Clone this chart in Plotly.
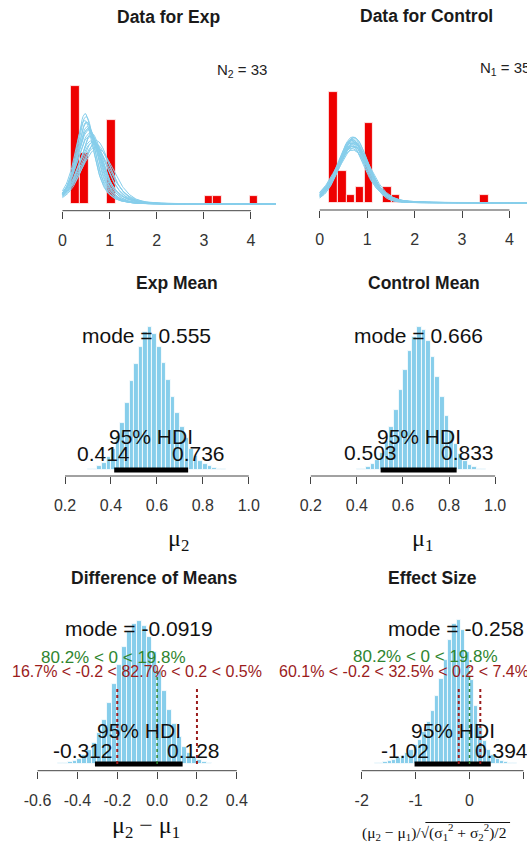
import math
import plotly.graph_objects as go

W, H = 527, 844

# ------------------------------------------------------------------ data
# observed data histograms (bin centres, counts)
data_bin_width = 0.18
exp_bin_centers = [0.275, 0.46, 1.035, 3.10, 3.29, 4.055]
exp_bin_counts = [14, 6, 10, 1, 1, 1]
N_exp = 33
ctrl_bin_centers = [0.29, 0.47, 0.65, 0.84, 1.03, 1.42, 1.60, 3.47]
ctrl_bin_counts = [14, 4, 1, 2, 10, 2, 1, 1]
N_ctrl = 35

# posterior-predictive t curves (mu, sigma, nu)
exp_mu = [0.50, 0.52, 0.48, 0.55, 0.58, 0.62, 0.66, 0.70, 0.74, 0.53,
          0.57, 0.60, 0.47, 0.64, 0.69, 0.51, 0.56, 0.72, 0.61, 0.54]
exp_sigma = [0.21, 0.23, 0.20, 0.25, 0.27, 0.26, 0.30, 0.32, 0.35, 0.24,
             0.28, 0.29, 0.22, 0.31, 0.33, 0.22, 0.26, 0.30, 0.27, 0.25]
exp_nu = [3, 4, 2.5, 5, 6, 3, 4, 8, 10, 3.5, 5, 2.8, 3, 6, 4, 2.5, 7, 5, 3, 4]
ctrl_mu = [0.68, 0.70, 0.72, 0.66, 0.71, 0.69, 0.73, 0.67, 0.70, 0.74,
           0.65, 0.72, 0.69, 0.71, 0.68, 0.70, 0.66, 0.73, 0.70, 0.67]
ctrl_sigma = [0.30, 0.31, 0.33, 0.30, 0.34, 0.30, 0.32, 0.36, 0.31, 0.35,
              0.31, 0.30, 0.37, 0.32, 0.31, 0.34, 0.33, 0.30, 0.35, 0.32]
ctrl_nu = [5, 8, 10, 4, 6, 20, 7, 12, 5, 9, 3, 15, 10, 6, 30, 8, 4, 11, 25, 6]
curve_x_span = (0.0, 4.55)

# posterior histograms: first bin centre, bin width, relative heights
mu2_start, mu2_width = 0.31, 0.02
mu2_heights = [0.005, 0.01, 0.025, 0.05, 0.09, 0.15, 0.24, 0.33, 0.47, 0.62,
               0.74, 0.86, 0.96, 1.00, 0.95, 0.86, 0.75, 0.63, 0.51, 0.40,
               0.30, 0.22, 0.15, 0.10, 0.065, 0.04, 0.025, 0.015, 0.008, 0.004]
mu1_start, mu1_width = 0.41, 0.02
mu1_heights = [0.005, 0.01, 0.02, 0.04, 0.07, 0.12, 0.20, 0.30, 0.42, 0.56,
               0.70, 0.83, 0.93, 1.00, 0.98, 0.90, 0.79, 0.65, 0.51, 0.38,
               0.27, 0.18, 0.11, 0.065, 0.035, 0.018, 0.008, 0.004]
diff_start, diff_width = -0.5375, 0.025
diff_heights = [0.002, 0.003, 0.005, 0.008, 0.012, 0.02, 0.035, 0.06, 0.095,
                0.145, 0.215, 0.31, 0.43, 0.56, 0.69, 0.82, 0.92, 0.98, 1.00,
                0.965, 0.89, 0.78, 0.65, 0.51, 0.38, 0.28, 0.19, 0.12, 0.075,
                0.045, 0.025, 0.013, 0.007, 0.003]
eff_start, eff_width = -1.72, 0.08
eff_heights = [0.005, 0.01, 0.015, 0.02, 0.03, 0.04, 0.055, 0.075, 0.10, 0.13,
               0.17, 0.22, 0.29, 0.37, 0.47, 0.59, 0.72, 0.86, 0.97, 1.00,
               0.93, 0.78, 0.58, 0.40, 0.26, 0.16, 0.10, 0.06, 0.035, 0.02,
               0.012, 0.007, 0.004]

mu2_mode, mu2_hdi = 0.555, (0.414, 0.736)
mu1_mode, mu1_hdi = 0.666, (0.503, 0.833)
diff_mode, diff_hdi = -0.0919, (-0.312, 0.128)
eff_mode, eff_hdi = -0.258, (-1.02, 0.394)
comp_val = 0
rope = (-0.2, 0.2)
diff_comp_pct = (80.2, 19.8)
eff_comp_pct = (80.2, 19.8)
diff_rope_pct = (16.7, 82.7, 0.5)
eff_rope_pct = (60.1, 32.5, 7.4)

ticks_data = [0, 1, 2, 3, 4]
ticks_mean = [0.2, 0.4, 0.6, 0.8, 1.0]
ticks_diff = [-0.6, -0.4, -0.2, 0.0, 0.2, 0.4]
ticks_eff = [-2, -1, 0, 1]
ticks_data_lbl = ["0", "1", "2", "3", "4"]
ticks_mean_lbl = ["0.2", "0.4", "0.6", "0.8", "1.0"]
ticks_diff_lbl = ["-0.6", "-0.4", "-0.2", "0.0", "0.2", "0.4"]
ticks_eff_lbl = ["-2", "-1", "0", "1"]

# ------------------------------------------------------------------ style
SKY = "#87CEEB"
RED = "#EE0000"
GREEN = "#2f852f"
DRED = "#9b1c1c"
AXC = "#444444"
FONT = "Liberation Sans, Arial, sans-serif"
SERIF = "Liberation Serif, Times New Roman, serif"

AW = {c: 0.556 for c in "0123456789"}
AW.update({".": 0.278, "-": 0.333, "%": 0.889, " ": 0.278, "<": 0.584,
           "=": 0.584, "m": 0.833, "o": 0.556, "d": 0.556, "e": 0.556,
           "H": 0.722, "D": 0.722, "I": 0.278})


def tw(s, size):
    return sum(AW.get(c, 0.556) for c in s) * size


def tpdf(x, mu, sig, nu):
    z = (x - mu) / sig
    c = math.exp(math.lgamma((nu + 1) / 2) - math.lgamma(nu / 2)) / (math.sqrt(nu * math.pi) * sig)
    return c * (1 + z * z / nu) ** (-(nu + 1) / 2)


def px2paper_x(px):
    return px / W


def px2paper_y(py):
    return 1 - py / H


fig = go.Figure()
layout = dict(width=W, height=H, margin=dict(l=0, r=0, t=0, b=0),
              paper_bgcolor="white", plot_bgcolor="white", showlegend=False,
              bargap=0, barmode="overlay")
annotations = []
shapes = []

# panel geometry in pixels: L/R = plot area, px0 = pixel of value v0, sx = px per unit,
# B = axis line, T = top, pb = baseline of bars, topbar = pixel of max bar top
panels = {
    1: dict(L=58, R=275, px0=60.7, v0=0.0, sx=47.3, B=210.7, T=50, pb=204.0),
    2: dict(L=317, R=527, px0=319.0, v0=0.0, sx=47.6, B=210.0, T=50, pb=202.7),
    3: dict(L=40, R=313, px0=63.3, v0=0.2, sx=230.5, B=476.0, T=300, pb=470.0, topbar=326.7),
    4: dict(L=300, R=527, px0=310.0, v0=0.2, sx=231.25, B=476.0, T=300, pb=470.0, topbar=326.7),
    5: dict(L=20, R=285, px0=155.7, v0=0.0, sx=200.0, B=770.7, T=590, pb=764.0, topbar=621.0),
    6: dict(L=300, R=527, px0=469.3, v0=0.0, sx=54.1, B=770.7, T=590, pb=764.0, topbar=620.0),
}
DATA_SY = 50.0  # px per density unit in the data panels


def setup_axes(i, sy, tickvals, ticktext):
    p = panels[i]
    xr = [p["v0"] + (p["L"] - p["px0"]) / p["sx"], p["v0"] + (p["R"] - p["px0"]) / p["sx"]]
    yr = [(p["pb"] - p["B"]) / sy, (p["pb"] - p["T"]) / sy]
    sfx = "" if i == 1 else str(i)
    layout["xaxis" + sfx] = dict(
        domain=[p["L"] / W, p["R"] / W], range=xr, anchor="y" + sfx,
        tickvals=tickvals, ticktext=ticktext, ticks="outside", ticklen=7,
        tickwidth=1, tickcolor=AXC, showline=False, showgrid=False,
        zeroline=False, tickfont=dict(family=FONT, size=16, color="#333"),
        ticklabelstandoff=8, fixedrange=True)
    layout["yaxis" + sfx] = dict(
        domain=[1 - p["B"] / H, 1 - p["T"] / H], range=yr, anchor="x" + sfx,
        visible=False, fixedrange=True)
    shapes.append(dict(type="line", xref="x" + sfx, yref="y" + sfx + " domain",
                       x0=tickvals[0], x1=tickvals[-1], y0=0, y1=0,
                       line=dict(color=AXC, width=1)))
    return "x" + sfx, "y" + sfx


def title(text, px, py):
    annotations.append(dict(text="<b>%s</b>" % text, x=px2paper_x(px), y=px2paper_y(py),
                            xref="paper", yref="paper", showarrow=False,
                            xanchor="center", yanchor="middle",
                            font=dict(family=FONT, size=17.5, color="#1a1a1a")))


def text_at(xa, xval, py, text, size, color="#111", xshift=0, family=FONT, anchor="center"):
    annotations.append(dict(text=text, x=xval, y=px2paper_y(py), xref=xa, yref="paper",
                            showarrow=False, xanchor=anchor, yanchor="middle",
                            xshift=xshift, font=dict(family=family, size=size, color=color)))


# ---------------- data panels
def data_panel(i, centers, counts, N, mus, sigs, nus):
    xa, ya = setup_axes(i, DATA_SY, ticks_data, ticks_data_lbl)
    dens = [c / (N * data_bin_width) for c in counts]
    fig.add_trace(go.Bar(x=centers, y=dens, width=data_bin_width, xaxis=xa, yaxis=ya,
                         marker=dict(color=RED, line=dict(color="white", width=0.8)),
                         hoverinfo="skip"))
    xs_all, ys_all = [], []
    n = 230
    for mu, sg, nu in zip(mus, sigs, nus):
        for k in range(n):
            x = curve_x_span[0] + (curve_x_span[1] - curve_x_span[0]) * k / (n - 1)
            xs_all.append(x)
            ys_all.append(tpdf(x, mu, sg, nu))
        xs_all.append(None)
        ys_all.append(None)
    fig.add_trace(go.Scatter(x=xs_all, y=ys_all, mode="lines", xaxis=xa, yaxis=ya,
                             line=dict(color=SKY, width=1), hoverinfo="skip"))
    return xa


xa1 = data_panel(1, exp_bin_centers, exp_bin_counts, N_exp, exp_mu, exp_sigma, exp_nu)
xa2 = data_panel(2, ctrl_bin_centers, ctrl_bin_counts, N_ctrl, ctrl_mu, ctrl_sigma, ctrl_nu)
title("Data for Exp", 166.7, 16.7)
title("Data for Control", 425.7, 16.5)
annotations.append(dict(text="N<sub>2</sub> = 33", x=px2paper_x(268), y=px2paper_y(70),
                        xref="paper", yref="paper", showarrow=False, xanchor="right",
                        yanchor="middle", font=dict(family=FONT, size=15, color="#222")))
annotations.append(dict(text="N<sub>1</sub> = 35", x=px2paper_x(478), y=px2paper_y(68.5),
                        xref="paper", yref="paper", showarrow=False, xanchor="left",
                        yanchor="middle", font=dict(family=FONT, size=15, color="#222")))


# ---------------- posterior panels
def post_panel(i, start, width, heights, ticks, tlbl, mode, hdi, ypos):
    p = panels[i]
    sy = (p["pb"] - p["topbar"]) / max(heights)
    xa, ya = setup_axes(i, sy, ticks, tlbl)
    centers = [start + k * width for k in range(len(heights))]
    fig.add_trace(go.Bar(x=centers, y=heights, width=width, xaxis=xa, yaxis=ya,
                         marker=dict(color=SKY, line=dict(color="white", width=0.8)),
                         hoverinfo="skip"))
    fig.add_trace(go.Scatter(x=list(hdi), y=[0, 0], mode="lines", xaxis=xa, yaxis=ya,
                             line=dict(color="black", width=5), hoverinfo="skip"))
    ymode, yhdi, yvals = ypos
    mtxt = "mode = %s" % ("%g" % mode)
    text_at(xa, mode, ymode, mtxt, 21)
    text_at(xa, (hdi[0] + hdi[1]) / 2, yhdi, "95% HDI", 21)
    s0, s1 = "%g" % hdi[0], "%g" % hdi[1]
    text_at(xa, hdi[0], yvals, s0, 21, xshift=-0.2 * tw(s0, 21))
    text_at(xa, hdi[1], yvals, s1, 21, xshift=0.2 * tw(s1, 21))
    return xa, ya, max(heights)


post_panel(3, mu2_start, mu2_width, mu2_heights, ticks_mean, ticks_mean_lbl,
           mu2_mode, mu2_hdi, (335, 436, 453.5))
post_panel(4, mu1_start, mu1_width, mu1_heights, ticks_mean, ticks_mean_lbl,
           mu1_mode, mu1_hdi, (335, 436.5, 452))
title("Exp Mean", 176, 283.3)
title("Control Mean", 424, 283)


def comp_rope(xa, ya, hmax, comp_pct, rope_pct, ygreen, yred):
    cv_top = 0.96 * 0.7 * hmax
    rp_top = 0.96 * 0.55 * hmax
    fig.add_trace(go.Scatter(x=[comp_val, comp_val], y=[0, cv_top], mode="lines",
                             xaxis=xa, yaxis=ya, hoverinfo="skip",
                             line=dict(color=GREEN, width=1.5, dash="dot")))
    for r in rope:
        fig.add_trace(go.Scatter(x=[r, r], y=[0, rp_top], mode="lines",
                                 xaxis=xa, yaxis=ya, hoverinfo="skip",
                                 line=dict(color=DRED, width=2, dash="dot")))
    gtxt = "%g%% < %g < %g%%" % (comp_pct[0], comp_val, comp_pct[1])
    gw = tw(gtxt, 17)
    text_at(xa, comp_val, ygreen, gtxt, 17, color=GREEN, xshift=(0.5 - comp_pct[0] / 100) * gw)
    rtxt = "%g%% < %g < %g%% < %g < %g%%" % (rope_pct[0], rope[0], rope_pct[1], rope[1], rope_pct[2])
    rw = tw(rtxt, 16)
    adj = rope_pct[0] / 100 + rope_pct[1] / 200
    text_at(xa, (rope[0] + rope[1]) / 2, yred, rtxt, 16, color=DRED, xshift=(0.5 - adj) * rw)


xa5, ya5, hm5 = post_panel(5, diff_start, diff_width, diff_heights, ticks_diff, ticks_diff_lbl,
                           diff_mode, diff_hdi, (628.3, 730.7, 750.5))
comp_rope(xa5, ya5, hm5, diff_comp_pct, diff_rope_pct, 657.8, 671.7)
xa6, ya6, hm6 = post_panel(6, eff_start, eff_width, eff_heights, ticks_eff, ticks_eff_lbl,
                           eff_mode, eff_hdi, (628.3, 730.3, 750))
comp_rope(xa6, ya6, hm6, eff_comp_pct, eff_rope_pct, 656.8, 671.7)
title("Difference of Means", 152.8, 578.3)
title("Effect Size", 432.3, 578)

# x-axis titles
for px, py, txt, size in [(177.5, 540, "μ<sub>2</sub>", 24), (422.5, 540, "μ<sub>1</sub>", 24),
                          (145, 826.7, "μ<sub>2</sub> − μ<sub>1</sub>", 24),
                          (433.3, 832, "(μ<sub>2</sub> − μ<sub>1</sub>)/√(σ<sub>1</sub><sup>2</sup> + σ<sub>2</sub><sup>2</sup>)/2", 15.5)]:
    annotations.append(dict(text=txt, x=px2paper_x(px), y=px2paper_y(py), xref="paper",
                            yref="paper", showarrow=False, xanchor="center", yanchor="middle",
                            font=dict(family=SERIF, size=size, color="#111")))
# radical overline of the effect-size label
shapes.append(dict(type="line", xref="paper", yref="paper",
                   x0=px2paper_x(425), x1=px2paper_x(510),
                   y0=px2paper_y(822.5), y1=px2paper_y(822.5),
                   line=dict(color="#111", width=1)))

layout["annotations"] = annotations
layout["shapes"] = shapes
fig.update_layout(**layout)
fig.write_html("out.html", config={"displayModeBar": False},
               post_script="document.body.style.margin='0';document.body.style.overflow='hidden';")
